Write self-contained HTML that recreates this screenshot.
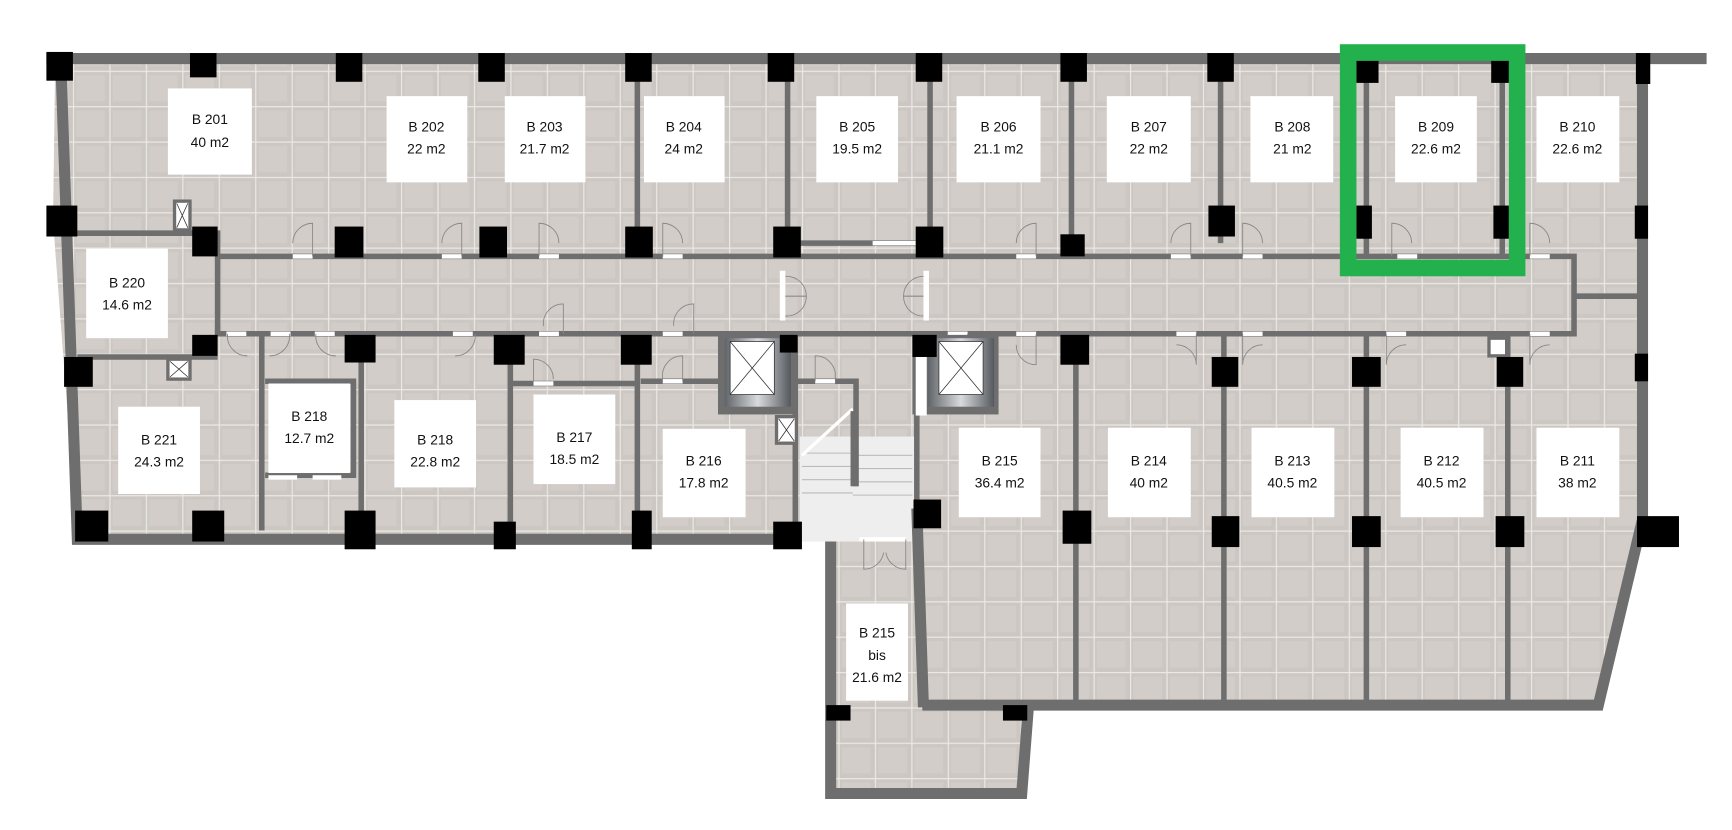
<!DOCTYPE html>
<html><head><meta charset="utf-8"><style>
html,body{margin:0;padding:0;background:#fff;width:1732px;height:830px;overflow:hidden}
svg{display:block}
text{font-family:"Liberation Sans",sans-serif;font-size:12.5px;fill:#111;text-anchor:middle}
</style></head><body>
<svg width="1732" height="830" viewBox="0 0 1568 751" preserveAspectRatio="none" xmlns="http://www.w3.org/2000/svg">
<defs>
<pattern id="tile" width="33" height="32" patternUnits="userSpaceOnUse">
<rect width="33" height="32" fill="#ccc7c2"/>
<rect x="3" y="4" width="26" height="24" fill="#d2cdc8"/>
<path d="M0 0.5H33M0.5 0V32" stroke="#ebe8e5" stroke-width="1.2"/>
</pattern>
<linearGradient id="elev" x1="0" x2="1"><stop offset="0" stop-color="#606468"/><stop offset="0.5" stop-color="#d8dadd"/><stop offset="1" stop-color="#55595e"/></linearGradient>
</defs>
<!-- floor -->
<polygon points="50,55 1487,55 1487,480 1446,638 930,638 924,718 752,718 752,490 70,490 48,200" fill="url(#tile)"/>
<!-- stair marble -->
<rect x="724" y="395" width="104" height="95" fill="#eeeeef"/>
<g stroke="#bbb" stroke-width="1"><path d="M726 410H772M726 422H772M726 434H772M726 446H772M772 412H826M772 424H826M772 436H826M772 448H826"/></g>
<path d="M726 412L772 370" stroke="#fff" stroke-width="3"/>
<rect x="770" y="372" width="7" height="68" fill="#6e6e6e"/>
<!-- outer walls -->
<g fill="none" stroke="#6e6e6e" stroke-width="10" stroke-linejoin="miter">
<path d="M42 53H1545"/>
<path d="M1487 53V470L1447 638H835"/>
<path d="M55 55L70 488H720"/>
<path d="M752 490V718H925L931 640"/>
<path d="M830 460L836 640"/>
</g>
<!-- interior walls -->
<g fill="none" stroke="#6e6e6e" stroke-width="5">
<path d="M197 232H1425V302H197V232"/>
<path d="M48 211H197V232"/>
<path d="M70 323H197"/>
<path d="M577 58V220M713 58V220M842 58V220M970 58V220M1105 58V220M1237 58V232M1360 58V232"/>
<path d="M1425 268H1487"/>
<path d="M237 302V480M327 302V480M462 316V490M577 316V490"/>
<path d="M462 347H577M240 345H320V430H240"/>
<path d="M580 345H650M720 302V490M830 302V460"/>
<path d="M720 345H775V440"/>
<path d="M974 302V636M1108 302V636M1237 302V636M1365 302V636"/>
<path d="M713 220H842"/>
</g>
<!-- doors -->
<g fill="#fff"><rect x="265" y="230" width="18" height="4"/><rect x="400" y="230" width="18" height="4"/><rect x="488" y="230" width="18" height="4"/><rect x="600" y="230" width="18" height="4"/><rect x="790" y="218" width="40" height="4"/><rect x="920" y="230" width="18" height="4"/><rect x="1060" y="230" width="18" height="4"/><rect x="1125" y="230" width="18" height="4"/><rect x="1265" y="230" width="18" height="4"/><rect x="1385" y="230" width="18" height="4"/>
<rect x="205" y="300" width="18" height="4"/><rect x="245" y="300" width="18" height="4"/><rect x="285" y="300" width="18" height="4"/><rect x="410" y="300" width="18" height="4"/><rect x="488" y="300" width="18" height="4"/><rect x="600" y="300" width="18" height="4"/><rect x="858" y="300" width="18" height="4"/><rect x="920" y="300" width="18" height="4"/><rect x="1065" y="300" width="18" height="4"/><rect x="1125" y="300" width="18" height="4"/><rect x="1255" y="300" width="18" height="4"/><rect x="1385" y="300" width="18" height="4"/>
<rect x="706" y="245" width="5" height="45"/><rect x="836" y="245" width="5" height="45"/><rect x="483" y="345" width="18" height="4"/><rect x="600" y="343" width="18" height="4"/><rect x="738" y="343" width="18" height="4"/><rect x="778" y="486" width="42" height="4"/><rect x="1348" y="306" width="16" height="16" stroke="#6e6e6e" stroke-width="3"/><rect x="243" y="430" width="26" height="4"/><rect x="283" y="430" width="26" height="4"/></g>
<g fill="none" stroke="#888" stroke-width="0.8">
<path d="M283 232V202A18 18 0 0 0 265 220"/><path d="M418 232V202A18 18 0 0 0 400 220"/><path d="M488 232V202A18 18 0 0 1 506 220"/><path d="M600 232V202A18 18 0 0 1 618 220"/><path d="M938 232V202A18 18 0 0 0 920 220"/><path d="M1078 232V202A18 18 0 0 0 1060 220"/><path d="M1125 232V202A18 18 0 0 1 1143 220"/><path d="M1260 232V202A18 18 0 0 1 1278 220"/><path d="M1385 232V202A18 18 0 0 1 1403 220"/>
<path d="M510 302V275A18 18 0 0 0 492 295"/><path d="M628 302V275A18 18 0 0 0 610 295"/><path d="M876 302V330A18 18 0 0 0 858 312"/><path d="M938 302V330A18 18 0 0 1 920 312"/><path d="M1083 302V330A18 18 0 0 0 1065 312"/><path d="M1125 302V330A18 18 0 0 1 1143 312"/><path d="M1255 302V330A18 18 0 0 1 1273 312"/><path d="M1385 302V330A18 18 0 0 1 1403 312"/>
<path d="M206 302A18 18 0 0 0 224 322"/><path d="M262 302A18 18 0 0 1 244 322"/><path d="M286 302A18 18 0 0 0 304 322"/><path d="M430 302A18 18 0 0 1 412 322"/>
<path d="M483 345V325A18 18 0 0 1 501 343"/><path d="M618 345V322A18 18 0 0 0 600 343"/><path d="M738 345V322A18 18 0 0 1 756 343"/>
<path d="M711 268H730A18 18 0 0 0 711 250"/><path d="M711 268H730A18 18 0 0 1 711 286"/><path d="M836 268H818A18 18 0 0 1 836 250"/><path d="M836 268H818A18 18 0 0 0 836 286"/>
<path d="M782 488V515A18 18 0 0 0 800 500"/><path d="M820 488V515A18 18 0 0 1 802 500"/>
</g>
<!-- elevators -->
<rect x="650" y="303" width="72" height="72" fill="#6e6e6e"/><rect x="656" y="306" width="60" height="62" fill="url(#elev)"/>
<rect x="661" y="309" width="40" height="48" fill="#fff" stroke="#333" stroke-width="0.7"/><path d="M661 309L701 357M701 309L661 357" stroke="#333" stroke-width="0.7"/>
<rect x="826" y="303" width="78" height="72" fill="#6e6e6e"/><rect x="840" y="306" width="60" height="62" fill="url(#elev)"/>
<rect x="850" y="309" width="40" height="48" fill="#fff" stroke="#333" stroke-width="0.7"/><path d="M850 309L890 357M890 309L850 357" stroke="#333" stroke-width="0.7"/>
<rect x="829" y="318" width="10" height="58" fill="#fff"/>
<!-- small ducts -->
<g fill="#fff" stroke="#6e6e6e" stroke-width="3"><rect x="158" y="182" width="14" height="26"/><rect x="152" y="325" width="20" height="18"/><rect x="703" y="377" width="18" height="24"/></g>
<g stroke="#333" stroke-width="0.7"><path d="M160 184L170 206M170 184L160 206M154 327L170 341M170 327L154 341M705 379L719 399M719 379L705 399"/></g>
<!-- pillars -->
<g fill="#000">
<rect x="42" y="47" width="24" height="26"/><rect x="172" y="48" width="24" height="22"/><rect x="304" y="48" width="24" height="26"/><rect x="433" y="48" width="24" height="26"/><rect x="566" y="48" width="24" height="26"/><rect x="695" y="48" width="24" height="26"/><rect x="829" y="48" width="24" height="26"/><rect x="960" y="48" width="24" height="26"/><rect x="1093" y="48" width="24" height="26"/><rect x="1228" y="55" width="20" height="20"/><rect x="1350" y="55" width="16" height="20"/><rect x="1481" y="48" width="13" height="28"/>
<rect x="42" y="186" width="28" height="28"/><rect x="174" y="205" width="23" height="27"/><rect x="303" y="205" width="26" height="28"/><rect x="434" y="205" width="25" height="28"/><rect x="566" y="205" width="25" height="28"/><rect x="700" y="205" width="25" height="28"/><rect x="829" y="205" width="25" height="28"/><rect x="960" y="212" width="22" height="20"/><rect x="1094" y="186" width="24" height="28"/><rect x="1228" y="186" width="14" height="30"/><rect x="1352" y="186" width="14" height="30"/><rect x="1480" y="186" width="12" height="30"/>
<rect x="174" y="303" width="23" height="19"/><rect x="58" y="323" width="26" height="27"/><rect x="312" y="303" width="28" height="25"/><rect x="447" y="303" width="28" height="27"/><rect x="562" y="303" width="28" height="27"/><rect x="706" y="303" width="16" height="16"/><rect x="826" y="303" width="22" height="20"/><rect x="960" y="303" width="26" height="27"/><rect x="1097" y="323" width="24" height="27"/><rect x="1224" y="323" width="26" height="27"/><rect x="1355" y="323" width="24" height="27"/><rect x="1480" y="320" width="12" height="25"/>
<rect x="68" y="462" width="30" height="28"/><rect x="174" y="462" width="29" height="28"/><rect x="312" y="462" width="28" height="35"/><rect x="447" y="472" width="20" height="25"/><rect x="572" y="462" width="18" height="35"/><rect x="700" y="472" width="26" height="25"/><rect x="827" y="452" width="25" height="26"/><rect x="962" y="462" width="26" height="30"/><rect x="1097" y="467" width="25" height="28"/><rect x="1224" y="467" width="26" height="28"/><rect x="1354" y="467" width="26" height="28"/><rect x="1482" y="467" width="38" height="28"/>
<rect x="748" y="638" width="22" height="14"/><rect x="908" y="638" width="22" height="14"/>
</g>
<!-- green highlight -->
<rect x="1220.5" y="47.5" width="153" height="195" fill="none" stroke="#22b14c" stroke-width="15"/>
<!-- labels -->
<g fill="#fff">
<rect x="152" y="80" width="76" height="78"/><rect x="350" y="87" width="73" height="78"/><rect x="457" y="87" width="73" height="78"/><rect x="583" y="87" width="73" height="78"/><rect x="739" y="87" width="74" height="78"/><rect x="866" y="87" width="76" height="78"/><rect x="1002" y="87" width="76" height="78"/><rect x="1132" y="87" width="75" height="78"/><rect x="1263" y="87" width="74" height="78"/><rect x="1391" y="87" width="75" height="78"/>
<rect x="78" y="225" width="74" height="81"/><rect x="107" y="368" width="74" height="79"/><rect x="243" y="347" width="74" height="81"/><rect x="357" y="362" width="74" height="79"/><rect x="483" y="357" width="74" height="81"/><rect x="600" y="388" width="75" height="80"/><rect x="868" y="387" width="74" height="81"/><rect x="1003" y="387" width="75" height="81"/><rect x="1133" y="387" width="75" height="81"/><rect x="1268" y="387" width="75" height="81"/><rect x="1391" y="387" width="75" height="81"/><rect x="766" y="546" width="56" height="88"/>
</g>
<text x="190" y="112">B 201</text><text x="190" y="133">40 m2</text>
<text x="386" y="119">B 202</text><text x="386" y="139">22 m2</text>
<text x="493" y="119">B 203</text><text x="493" y="139">21.7 m2</text>
<text x="619" y="119">B 204</text><text x="619" y="139">24 m2</text>
<text x="776" y="119">B 205</text><text x="776" y="139">19.5 m2</text>
<text x="904" y="119">B 206</text><text x="904" y="139">21.1  m2</text>
<text x="1040" y="119">B 207</text><text x="1040" y="139">22 m2</text>
<text x="1170" y="119">B 208</text><text x="1170" y="139">21 m2</text>
<text x="1300" y="119">B 209</text><text x="1300" y="139">22.6 m2</text>
<text x="1428" y="119">B 210</text><text x="1428" y="139">22.6 m2</text>
<text x="115" y="260">B 220</text><text x="115" y="280">14.6 m2</text>
<text x="144" y="402">B 221</text><text x="144" y="422">24.3 m2</text>
<text x="280" y="381">B 218</text><text x="280" y="401">12.7 m2</text>
<text x="394" y="402">B 218</text><text x="394" y="422">22.8 m2</text>
<text x="520" y="400">B 217</text><text x="520" y="420">18.5 m2</text>
<text x="637" y="421">B 216</text><text x="637" y="441">17.8 m2</text>
<text x="905" y="421">B 215</text><text x="905" y="441">36.4 m2</text>
<text x="1040" y="421">B 214</text><text x="1040" y="441">40 m2</text>
<text x="1170" y="421">B 213</text><text x="1170" y="441">40.5 m2</text>
<text x="1305" y="421">B 212</text><text x="1305" y="441">40.5 m2</text>
<text x="1428" y="421">B 211</text><text x="1428" y="441">38 m2</text>
<text x="794" y="577">B 215</text><text x="794" y="597">bis</text><text x="794" y="617">21.6 m2</text>
</svg>
</body></html>
